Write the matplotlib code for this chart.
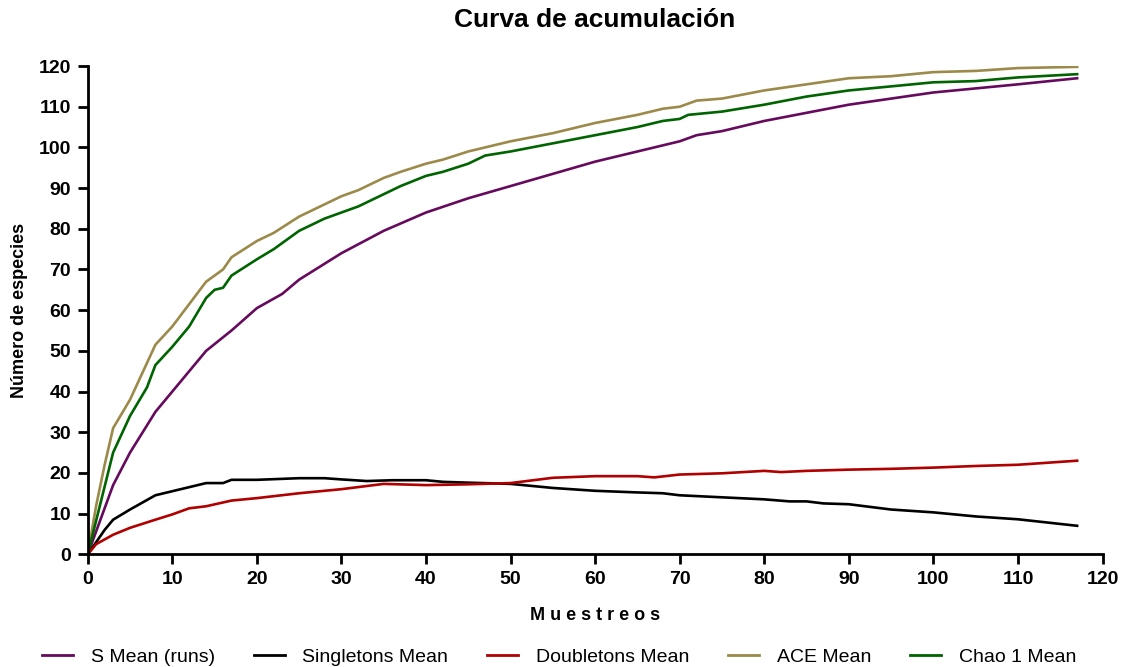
import matplotlib
matplotlib.use('Agg')
import matplotlib.pyplot as plt
from matplotlib.lines import Line2D

# values
s_x = [0, 3, 5, 8, 10, 12, 14, 17, 20, 23, 25, 30, 35, 40, 45, 50, 55, 60, 65, 70, 72, 75, 80, 85, 90, 95, 100, 105, 110, 117]
s_mean = [0, 17, 25, 35, 40, 45, 50, 55, 60.5, 64, 67.5, 74, 79.5, 84, 87.5, 90.5, 93.5, 96.5, 99, 101.5, 103, 104, 106.5, 108.5, 110.5, 112, 113.5, 114.5, 115.5, 117]

ace_x = [0, 1, 2, 3, 5, 8, 10, 12, 14, 16, 17, 20, 22, 25, 28, 30, 32, 35, 37, 40, 42, 45, 50, 55, 60, 65, 68, 70, 72, 75, 80, 85, 90, 95, 100, 105, 110, 117]
ace_mean = [0, 12, 22, 31, 38, 51.5, 56, 61.5, 67, 70, 73, 77, 79, 83, 86, 88, 89.5, 92.5, 94, 96, 97, 99, 101.5, 103.5, 106, 108, 109.5, 110, 111.5, 112, 114, 115.5, 117, 117.5, 118.5, 118.8, 119.5, 119.8]

chao_x = [0, 3, 5, 7, 8, 10, 12, 14, 15, 16, 17, 20, 22, 24, 25, 28, 30, 32, 35, 37, 40, 42, 45, 47, 50, 55, 60, 65, 68, 70, 71, 75, 80, 85, 90, 95, 100, 105, 110, 117]
chao_mean = [0, 25, 34, 41, 46.5, 51, 56, 63, 65, 65.5, 68.5, 72.5, 75, 78, 79.5, 82.5, 84, 85.5, 88.5, 90.5, 93, 94, 96, 98, 99, 101, 103, 105, 106.5, 107, 108, 108.8, 110.5, 112.5, 114, 115, 116, 116.3, 117.2, 118]

sing_x = [0, 1, 2, 3, 5, 8, 10, 12, 14, 16, 17, 20, 25, 28, 30, 33, 36, 40, 42, 45, 50, 55, 60, 65, 68, 70, 75, 80, 83, 85, 87, 90, 95, 100, 105, 110, 117]
singletons = [0, 3, 6, 8.5, 11, 14.5, 15.5, 16.5, 17.5, 17.5, 18.3, 18.3, 18.7, 18.7, 18.4, 18, 18.2, 18.2, 17.8, 17.6, 17.3, 16.3, 15.6, 15.2, 15, 14.5, 14, 13.5, 13, 13, 12.5, 12.3, 11, 10.3, 9.3, 8.6, 7]

doub_x = [0, 1, 3, 5, 8, 10, 12, 14, 17, 20, 25, 30, 35, 40, 45, 50, 55, 60, 65, 67, 70, 75, 80, 82, 85, 90, 95, 100, 105, 110, 117]
doubletons = [0, 2.5, 4.8, 6.5, 8.5, 9.8, 11.3, 11.8, 13.2, 13.8, 15, 16, 17.3, 17, 17.2, 17.5, 18.8, 19.2, 19.2, 18.9, 19.6, 19.9, 20.5, 20.2, 20.5, 20.8, 21, 21.3, 21.7, 22, 23]

series = [
    ('S Mean (runs)', s_x, s_mean, '#660a5e'),
    ('Singletons Mean', sing_x, singletons, '#000000'),
    ('Doubletons Mean', doub_x, doubletons, '#b00000'),
    ('ACE Mean', ace_x, ace_mean, '#9c8a4a'),
    ('Chao 1 Mean', chao_x, chao_mean, '#006400'),
]

plt.rcParams['font.family'] = ['Liberation Sans', 'DejaVu Sans']

fig = plt.figure(figsize=(11.25, 6.67), dpi=100)
ax = fig.add_axes([0.078, 0.169, 0.902, 0.732])

for name, xs, ys, col in series:
    ax.plot(xs, ys, color=col, lw=1.9, label=name)

ax.set_xlim(0, 120)
ax.set_ylim(0, 120)
ax.set_xticks(range(0, 121, 10))
ax.set_yticks(range(0, 121, 10))
for sp in ['top', 'right']:
    ax.spines[sp].set_visible(False)
for sp in ['left', 'bottom']:
    ax.spines[sp].set_linewidth(2)
ax.tick_params(width=2, length=7, labelsize=14, direction='out', pad=5)
for lab in ax.get_xticklabels() + ax.get_yticklabels():
    lab.set_fontweight('bold')

ax.set_title('Curva de acumulación', fontsize=19, fontweight='bold', pad=28)
ax.set_xlabel('M u e s t r e o s', fontsize=13, fontweight='bold', labelpad=14)
ax.set_ylabel('Número de especies', fontsize=13, fontweight='bold', labelpad=8)

handles = [Line2D([], [], color=c, lw=2) for _, _, _, c in series]
fig.legend(handles, [s[0] for s in series], loc='lower center', ncol=5,
           bbox_to_anchor=(0.497, -0.025), frameon=False, handlelength=1.6,
           columnspacing=2.0, handletextpad=0.9, fontsize=14)

fig.savefig('out.png', dpi=100)
